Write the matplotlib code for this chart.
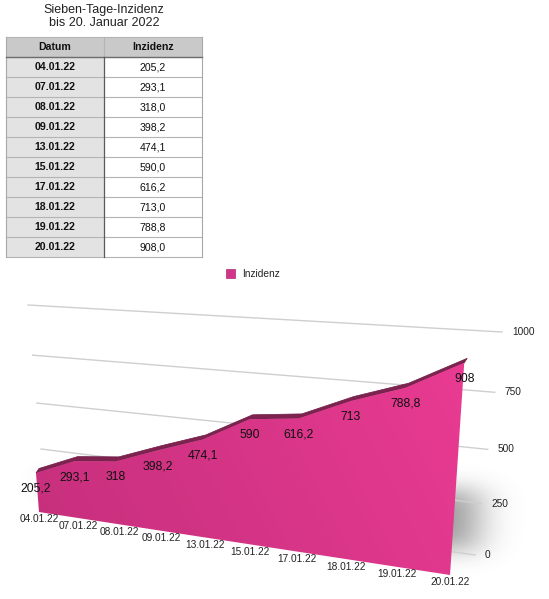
import numpy as np
import matplotlib
matplotlib.use('Agg')
import matplotlib.pyplot as plt
from matplotlib.patches import Polygon, Rectangle
from matplotlib.path import Path
from matplotlib.colors import to_rgb

plt.rcParams['font.family'] = ['Liberation Sans', 'DejaVu Sans']

# data
title_lines = ['Sieben-Tage-Inzidenz', 'bis 20. Januar 2022']
col_headers = ['Datum', 'Inzidenz']
series_name = 'Inzidenz'
dates = ['04.01.22', '07.01.22', '08.01.22', '09.01.22', '13.01.22',
         '15.01.22', '17.01.22', '18.01.22', '19.01.22', '20.01.22']
inzidenz = [205.2, 293.1, 318.0, 398.2, 474.1, 590.0, 616.2, 713.0, 788.8, 908.0]
y_ticks = [0, 250, 500, 750, 1000]


def de(v, fmt):
    return format(v, fmt).replace('.', ',')


def fit_h(dst):
    # homography from unit square (t, s) to pixel corners
    src = [(0, 0), (1, 0), (0, 1), (1, 1)]
    A = []
    for (x, y), (u, v) in zip(src, dst):
        A.append([x, y, 1, 0, 0, 0, -u * x, -u * y, -u])
        A.append([0, 0, 0, x, y, 1, -v * x, -v * y, -v])
    _, _, vt = np.linalg.svd(np.array(A, float))
    return vt[-1].reshape(3, 3)


def project(H, t, s):
    t = np.atleast_1d(np.asarray(t, float))
    s = np.broadcast_to(np.asarray(s, float), t.shape)
    p = H @ np.vstack([t, s, np.ones_like(t)])
    return np.column_stack([p[0] / p[2], p[1] / p[2]])


def gauss(sig):
    k = np.arange(-3 * sig, 3 * sig + 1)
    k = np.exp(-k ** 2 / (2 * sig ** 2))
    return k / k.sum()


W, Hpx = 549, 599
fig = plt.figure(figsize=(W / 100, Hpx / 100), dpi=100)
ax = fig.add_axes([0, 0, 1, 1])

# ---- table ----
tx0, tx1, tsplit = 6, 202, 104
ty0, rh = 37, 20
ax.text((tx0 + tx1) / 2, 10.5, title_lines[0], ha='center', va='center', fontsize=9, color='#222222')
ax.text((tx0 + tx1) / 2, 23.5, title_lines[1], ha='center', va='center', fontsize=9, color='#222222')
ax.add_patch(Rectangle((tx0, ty0), tx1 - tx0, rh, fc='#c9c9c9', ec='none'))
ax.add_patch(Rectangle((tx0, ty0 + rh), tsplit - tx0, rh * len(dates), fc='#e3e3e3', ec='none'))
ax.text((tx0 + tsplit) / 2, ty0 + rh / 2, col_headers[0], ha='center', va='center', fontsize=7.6, weight='bold', color='#111111')
ax.text((tsplit + tx1) / 2, ty0 + rh / 2, col_headers[1], ha='center', va='center', fontsize=7.6, weight='bold', color='#111111')
for k, (d, v) in enumerate(zip(dates, inzidenz)):
    yc = ty0 + rh * (k + 1.5)
    ax.text((tx0 + tsplit) / 2, yc, d, ha='center', va='center', fontsize=7.6, weight='bold', color='#111111')
    ax.text((tsplit + tx1) / 2, yc, de(v, '.1f'), ha='center', va='center', fontsize=7.6, color='#111111')
for k in range(len(dates) + 2):
    yy = ty0 + rh * k
    ax.plot([tx0, tx1], [yy, yy], color='#b4b4b4', lw=0.8, zorder=2)
ax.plot([tx0, tx1], [ty0 + rh, ty0 + rh], color='#6e6e6e', lw=1.0, zorder=3)
ty1 = ty0 + rh * (len(dates) + 1)
ax.plot([tx0, tx0], [ty0, ty1], color='#a8a8a8', lw=0.8, zorder=2)
ax.plot([tx1, tx1], [ty0, ty1], color='#a8a8a8', lw=0.8, zorder=2)
ax.plot([tsplit, tsplit], [ty0, ty0 + rh], color='#b4b4b4', lw=0.8, zorder=2)
ax.plot([tsplit, tsplit], [ty0 + rh, ty1], color='#5a5a5a', lw=0.9, zorder=3)

# ---- legend ----
ax.add_patch(Rectangle((226, 269), 9, 9, fc='#d1358a', ec='#b02a72', lw=0.5))
ax.text(242, 274, series_name, ha='left', va='center', fontsize=7.3, color='#222222')

# ---- 3D-looking area chart ----
y_max = y_ticks[-1]
HF = fit_h([(39, 512), (450, 575), (23.6, 311.4), (465.8, 339.5)])   # front plane
HW = fit_h([(45, 493), (475, 555), (28, 305), (502, 332)])           # back wall
depth = np.array([3.0, -4.5])

n = len(dates)
tt = np.arange(n) / (n - 1)
ss = np.array(inzidenz) / y_max
top = project(HF, tt, ss)
base = project(HF, tt, 0.0)
face = np.vstack([top, base[::-1]])

# soft shadow: flattened copy of the area, pushed back and blurred
flat = base + 0.3 * (top - base)
shade_poly = np.vstack([flat, base[::-1]]) + np.array([24, -22])
gx, gy = np.meshgrid(np.arange(W) + 0.5, np.arange(260, Hpx) + 0.5)
mask = Path(shade_poly).contains_points(
    np.column_stack([gx.ravel(), gy.ravel()])).reshape(gx.shape).astype(float)
blur = np.apply_along_axis(lambda r: np.convolve(r, gauss(20), mode='same'), 1, mask)
blur = np.apply_along_axis(lambda c: np.convolve(c, gauss(11), mode='same'), 0, blur)
shadow = np.zeros(mask.shape + (4,))
shadow[..., :3] = 0.42
shadow[..., 3] = 0.7 * blur
ax.imshow(shadow, extent=(0, W, Hpx, 260), origin='upper', aspect='auto', zorder=1)

# grid on back wall
for v in y_ticks:
    p = project(HW, [0, 1], v / y_max)
    ax.plot(p[:, 0], p[:, 1], color='#cfcfcf', lw=1.0, zorder=2)
    ax.text(p[1, 0] + 10, p[1, 1], str(v), ha='left', va='center', fontsize=7.3, color='#222222', zorder=2)

# top surface strip
back = top + depth
strip = np.vstack([top, back[::-1]])
ax.add_patch(Polygon(strip, closed=True, fc='#7e2250', ec='#6d1c45', lw=0.5, zorder=3))

# front face with gradient
poly = Polygon(face, closed=True, fc='none', ec='none', zorder=4)
ax.add_patch(poly)
x0, x1 = face[:, 0].min(), face[:, 0].max()
y0, y1 = face[:, 1].min(), face[:, 1].max()
px, py = np.meshgrid(np.linspace(x0, x1, 200), np.linspace(y0, y1, 200))
d = np.array([x1 - x0, y0 - y1])
g = ((px - x0) * d[0] + (py - y1) * d[1]) / (d @ d)
g = np.clip(g, 0, 1)[..., None]
c_lo = np.array(to_rgb('#c52f7c'))
c_hi = np.array(to_rgb('#e93b92'))
grad = c_lo * (1 - g) + c_hi * g
im = ax.imshow(grad, extent=(x0, x1, y1, y0), origin='upper', aspect='auto', zorder=4)
im.set_clip_path(poly)

# labels
for (x, y), v in zip(top, inzidenz):
    ax.text(x, y + 16, de(v, 'g'), ha='center', va='center', fontsize=8.8, color='#111111', zorder=6)
for (x, y), d_ in zip(base, dates):
    ax.text(x, y + 7.5, d_, ha='center', va='center', fontsize=7.3, color='#222222', zorder=6)

ax.set_xlim(0, W)
ax.set_ylim(Hpx, 0)
ax.axis('off')
fig.savefig('out.png', dpi=100)
